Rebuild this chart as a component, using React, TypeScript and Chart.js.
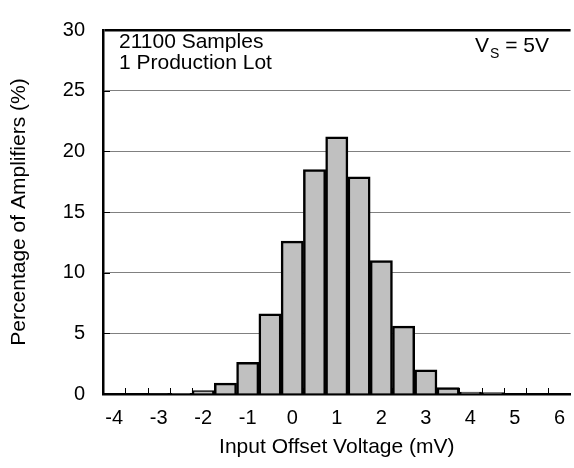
import React, { useEffect, useRef } from "react";
import { Chart, registerables } from "chart.js";

Chart.register(...registerables);

// ---- data ----
const categories: string[] = [
  "-4", "-3.5", "-3", "-2.5", "-2", "-1.5", "-1", "-0.5", "0", "0.5", "1",
  "1.5", "2", "2.5", "3", "3.5", "4", "4.5", "5", "5.5", "6",
];
const percentages: number[] = [
  0, 0, 0.04, 0.06, 0.28, 0.9, 2.6, 6.6, 12.6, 18.5, 21.2,
  17.9, 11.0, 5.6, 2.0, 0.52, 0.15, 0.12, 0, 0, 0,
];
const yTicks: number[] = [0, 5, 10, 15, 20, 25, 30];
const annotationLines: string[] = ["21100 Samples", "1 Production Lot"];
const supplyLabel = { main: "V", sub: "S", rest: " = 5V" };
const xTitle = "Input Offset Voltage (mV)";
const yTitle = "Percentage of Amplifiers (%)";

const FONT = "'Liberation Sans', Arial, sans-serif";

const innerTicks = {
  id: "innerTicks",
  beforeDatasetsDraw(chart: any) {
    const { ctx, chartArea, scales } = chart;
    const x = scales.x;
    const y = scales.y;
    ctx.save();
    ctx.strokeStyle = "#000";
    ctx.lineWidth = 1;
    ctx.beginPath();
    for (let i = 1; i < categories.length; i++) {
      const px = Math.round((x.getPixelForValue(i - 1) + x.getPixelForValue(i)) / 2) + 0.5;
      ctx.moveTo(px, chartArea.bottom);
      ctx.lineTo(px, chartArea.bottom - 6);
    }
    yTicks.forEach((v) => {
      if (v === 0 || v === 30) return;
      const py = Math.round(y.getPixelForValue(v)) + 0.5;
      ctx.moveTo(chartArea.left, py);
      ctx.lineTo(chartArea.left + 7, py);
    });
    ctx.stroke();
    ctx.restore();
  },
};

const annotations = {
  id: "annotations",
  afterDraw(chart: any) {
    const { ctx } = chart;
    ctx.save();
    ctx.fillStyle = "#000";
    ctx.textBaseline = "alphabetic";
    ctx.textAlign = "left";
    ctx.font = `21px ${FONT}`;
    annotationLines.forEach((t, i) => {
      ctx.fillText(t, 119, 48 + i * 20.5);
    });
    let xPos = 475;
    ctx.fillText(supplyLabel.main, xPos, 52);
    xPos += ctx.measureText(supplyLabel.main).width + 1;
    ctx.font = `14px ${FONT}`;
    ctx.fillText(supplyLabel.sub, xPos, 57.5);
    xPos += ctx.measureText(supplyLabel.sub).width;
    ctx.font = `21px ${FONT}`;
    ctx.fillText(supplyLabel.rest, xPos, 52);
    ctx.restore();
  },
};

export default function App() {
  const ref = useRef<HTMLCanvasElement>(null);
  useEffect(() => {
    if (!ref.current) return;
    Chart.defaults.color = "#000";
    Chart.defaults.font.family = FONT;
    const chart = new Chart(ref.current, {
      type: "bar",
      data: {
        labels: categories,
        datasets: [
          {
            data: percentages,
            backgroundColor: "#c0c0c0",
            borderColor: "#000",
            borderWidth: 2.5,
            categoryPercentage: 1,
            barPercentage: 1,
          },
        ],
      },
      options: {
        animation: false,
        responsive: true,
        maintainAspectRatio: false,
        layout: { padding: { top: 15, right: 0, bottom: 0, left: 0 } },
        plugins: { legend: { display: false }, tooltip: { enabled: false } },
        scales: {
          x: {
            type: "category",
            z: 1,
            grid: { display: true, drawOnChartArea: false, drawTicks: false, offset: true },
            border: { display: true, color: "#000", width: 2.5 },
            ticks: {
              autoSkip: false,
              maxRotation: 0,
              padding: 12,
              font: { size: 20, family: FONT },
              color: "#000",
              callback: (_v: any, i: number) =>
                Number.isInteger(Number(categories[i])) ? categories[i] : "",
            },
            title: {
              display: true,
              text: xTitle,
              font: { size: 21, family: FONT },
              color: "#000",
              padding: { top: 0, bottom: 8 },
            },
            afterFit: (s: any) => {
              s.height = 74;
            },
          },
          y: {
            min: 0,
            max: 30,
            afterBuildTicks: (s: any) => {
              s.ticks = yTicks.map((v) => ({ value: v }));
            },
            grid: {
              drawTicks: false,
              color: (c: any) => (c.tick && c.tick.value === 30 ? "#000" : c.tick && c.tick.value === 0 ? "rgba(0,0,0,0)" : "#808080"),
              lineWidth: (c: any) => (c.tick && c.tick.value === 30 ? 2.5 : 1),
            },
            border: { display: true, color: "#000", width: 2.5 },
            ticks: {
              padding: 18,
              font: { size: 20, family: FONT },
              color: "#000",
            },
            title: {
              display: true,
              text: yTitle,
              font: { size: 21, family: FONT },
              color: "#000",
              padding: { top: 7, bottom: 0 },
            },
            afterFit: (s: any) => {
              s.width = 103;
            },
          },
        },
      },
      plugins: [innerTicks, annotations],
    });
    return () => chart.destroy();
  }, []);

  return (
    <div
      style={{
        position: "fixed",
        left: 0,
        top: 0,
        width: 574,
        height: 468,
        overflow: "hidden",
        background: "#fff",
      }}
    >
      <div style={{ position: "relative", width: 577, height: 468 }}>
        <canvas ref={ref} />
      </div>
    </div>
  );
}
